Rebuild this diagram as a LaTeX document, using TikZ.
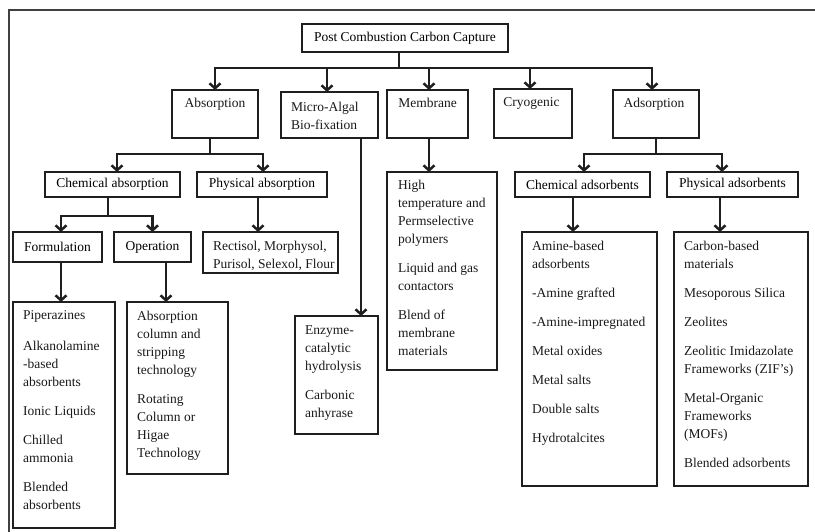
\documentclass[tikz,border=0pt]{standalone}
\usepackage{fontspec}
\setmainfont{Liberation Serif}
\usetikzlibrary{arrows.meta}
\begin{document}
\begin{tikzpicture}[x=1pt,y=-1pt,
  bx/.style={draw=black!88, line width=2.8pt, anchor=north west, inner sep=0pt, outer sep=0pt, font=\fontsize{13.5}{18}\selectfont},
  tx/.style={inner sep=0pt, align=left, font=\fontsize{13.5}{18}\selectfont, text=black!90},
  lt/.style={tx, anchor=north west},
  ln/.style={draw=black!88, line width=2.5pt},
  arr/.style={ln, -{Straight Barb[length=5pt,width=11pt,line width=2.5pt]}},
  frame/.style={draw=black!75, line width=1.6pt}]
\useasboundingbox (0,0) rectangle (815,532);
\draw[frame] (9,540) -- (9,10) -- (820,10);
% level 0
\node[bx, minimum width=206, minimum height=28] (pcc) at (302,24) {Post Combustion Carbon Capture};
% level 1
\node[bx, minimum width=86, minimum height=48] (abs) at (172,90) {};
\node[tx, anchor=base] (absT) at ([yshift=-18pt]abs.north) {Absorption};
\node[bx, minimum width=97, minimum height=46] (mab) at (281,92) {};
\node[lt] (mabT) at ([xshift=10pt,yshift=-9.5pt]mab.north west) {Micro-Algal\\Bio-fixation};
\node[bx, minimum width=81, minimum height=48] (mem) at (387,90) {};
\node[tx, anchor=base] (memT) at ([yshift=-18pt]mem.north) {Membrane};
\node[bx, minimum width=78, minimum height=49] (cry) at (494,89) {};
\node[tx, anchor=base] (cryT) at ([yshift=-18pt,xshift=-1.5pt]cry.north) {Cryogenic};
\node[bx, minimum width=86, minimum height=48] (ads) at (613,90) {};
\node[tx, anchor=base] (adsT) at ([yshift=-18pt,xshift=-2pt]ads.north) {Adsorption};
% level 2
\node[bx, minimum width=135, minimum height=25] (cha) at (45,172) {Chemical absorption};
\node[bx, minimum width=130, minimum height=25] (pha) at (197,172) {Physical absorption};
\node[bx, minimum width=135, minimum height=25] (cads) at (515,172) {Chemical adsorbents};
\node[bx, minimum width=131, minimum height=25] (pads) at (667,172) {Physical adsorbents};
\node[bx, minimum width=110, minimum height=198] (meml) at (387,172) {};
\node[lt] (memlT) at ([xshift=11pt,yshift=-8pt]meml.north west)
  {High\\temperature and\\Permselective\\polymers\\[11pt]Liquid and gas\\contactors\\[11pt]Blend of\\membrane\\materials};
% level 3
\node[bx, minimum width=89, minimum height=30] (for) at (13,232) {Formulation};
\node[bx, minimum width=77, minimum height=30] (ope) at (114,232) {Operation};
\node[bx, minimum width=135, minimum height=41] (rec) at (203,232) {};
\node[lt] (recT) at ([xshift=10pt,yshift=-8.5pt]rec.north west) {Rectisol, Morphysol,\\Purisol, Selexol, Flour};
\node[bx, minimum width=135, minimum height=254] (amine) at (522,232) {};
\node[lt] (amineT) at ([xshift=10pt,yshift=-8.5pt]amine.north west)
  {Amine-based\\adsorbents\\[11pt]-Amine grafted\\[11pt]-Amine-impregnated\\[11pt]Metal oxides\\[11pt]Metal salts\\[11pt]Double salts\\[11pt]Hydrotalcites};
\node[bx, minimum width=134, minimum height=254] (carb) at (674,232) {};
\node[lt] (carbT) at ([xshift=10pt,yshift=-8.5pt]carb.north west)
  {Carbon-based\\materials\\[11pt]Mesoporous Silica\\[11pt]Zeolites\\[11pt]Zeolitic Imidazolate\\Frameworks (ZIF's)\\[11pt]Metal-Organic\\Frameworks\\(MOFs)\\[11pt]Blended adsorbents};
% level 4
\node[bx, minimum width=102, minimum height=226] (pip) at (13,302) {};
\node[lt] (pipT) at ([xshift=10pt,yshift=-8.5pt]pip.north west)
  {Piperazines\\[13pt]Alkanolamine\\-based\\absorbents\\[11pt]Ionic Liquids\\[11pt]Chilled\\ammonia\\[11pt]Blended\\absorbents};
\node[bx, minimum width=101, minimum height=172] (col) at (127,302) {};
\node[lt] (colT) at ([xshift=10pt,yshift=-8.5pt]col.north west)
  {Absorption\\column and\\stripping\\technology\\[11pt]Rotating\\Column or\\Higae\\Technology};
\node[bx, minimum width=83, minimum height=118] (enz) at (295,316) {};
\node[lt] (enzT) at ([xshift=10pt,yshift=-9.5pt]enz.north west)
  {Enzyme-\\catalytic\\hydrolysis\\[11pt]Carbonic\\anhyrase};
% connectors level 0 -> 1
\draw[ln] ([xshift=-6pt]pcc.south) -- ++(0,16) coordinate (b0);
\draw[arr] (b0) -| (abs.north);
\draw[arr] (b0) -| ([xshift=-2.5pt]mab.north);
\draw[arr] (b0) -| ([xshift=1.5pt]mem.north);
\draw[arr] (b0) -| ([xshift=-3pt]cry.north);
\draw[arr] (b0) -| ([xshift=-4pt]ads.north);
% absorption
\draw[ln] ([xshift=-5pt]abs.south) -- ++(0,16) coordinate (b1);
\draw[arr] (b1) -| ([xshift=4.5pt]cha.north);
\draw[arr] (b1) -| ([xshift=1pt]pha.north);
\draw[ln] ([xshift=-4.5pt]cha.south) -- ++(0,19) coordinate (b2);
\draw[arr] (b2) -| ([xshift=3.5pt]for.north);
\draw[arr] (b2) -| (ope.north);
\draw[arr] ([xshift=-4pt]pha.south) -- ([xshift=-4pt]pha.south |- rec.north);
\draw[arr] ([xshift=3.5pt]for.south) -- ([xshift=3.5pt]for.south |- pip.north);
\draw[arr] ([xshift=13.5pt]ope.south) -- ([xshift=13.5pt]ope.south |- col.north);
% micro-algal, membrane
\draw[arr] ([xshift=31.5pt]mab.south) -- ([xshift=31.5pt]mab.south |- enz.north);
\draw[arr] ([xshift=1.5pt]mem.south) -- ([xshift=1.5pt]mem.south |- meml.north);
% adsorption
\draw[ln] (ads.south) -- ++(0,16) coordinate (b3);
\draw[arr] (b3) -| ([xshift=1.5pt]cads.north);
\draw[arr] (b3) -| ([xshift=-10.5pt]pads.north);
\draw[arr] ([xshift=-9.5pt]cads.south) -- ([xshift=-9.5pt]cads.south |- amine.north);
\draw[arr] ([xshift=-12.5pt]pads.south) -- ([xshift=-12.5pt]pads.south |- carb.north);
\end{tikzpicture}
\end{document}
